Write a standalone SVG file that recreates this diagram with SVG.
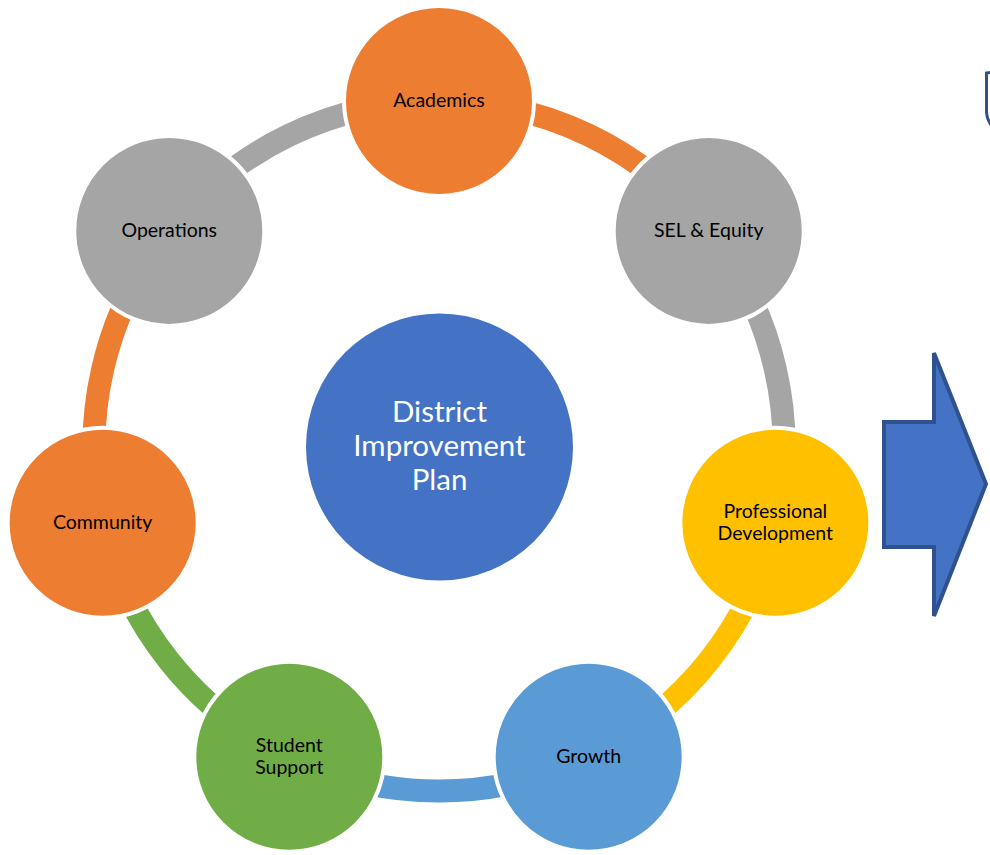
<svg xmlns="http://www.w3.org/2000/svg" width="990" height="855" viewBox="0 0 990 855">
<style>
.arc{fill:none;stroke-width:23}
.node{stroke:#fff;stroke-width:4}
.lbl{font-family:Lato,"Open Sans","DejaVu Sans",sans-serif;font-size:19.5px;fill:#000;text-anchor:middle}
.ctr{font-family:Lato,"Open Sans","DejaVu Sans",sans-serif;font-size:29.5px;fill:#fff;text-anchor:middle}
</style>
<rect width="990" height="855" fill="#fff"/>
<g id="connectors">
<path class="arc" stroke="#ED7D31" d="M439 101 A345 345 0 0 1 708.73 230.9"/>
<path class="arc" stroke="#A5A5A5" d="M708.73 230.9 A345 345 0 0 1 775.35 522.77"/>
<path class="arc" stroke="#FFC000" d="M775.35 522.77 A345 345 0 0 1 588.69 756.83"/>
<path class="arc" stroke="#5B9BD5" d="M588.69 756.83 A345 345 0 0 1 289.31 756.83"/>
<path class="arc" stroke="#70AD47" d="M289.31 756.83 A345 345 0 0 1 102.65 522.77"/>
<path class="arc" stroke="#ED7D31" d="M102.65 522.77 A345 345 0 0 1 169.27 230.9"/>
<path class="arc" stroke="#A5A5A5" d="M169.27 230.9 A345 345 0 0 1 439 101"/>
</g>
<g id="center">
<circle cx="439.5" cy="447" r="133.5" fill="#4472C4"/>
<text class="ctr" x="439.5" y="422">District</text>
<text class="ctr" x="439.5" y="456">Improvement</text>
<text class="ctr" x="439.5" y="490">Plan</text>
</g>
<g id="academics">
<circle class="node" cx="439" cy="101" r="95" fill="#ED7D31"/>
<text class="lbl" x="439" y="107">Academics</text>
</g>
<g id="sel-equity">
<circle class="node" cx="708.73" cy="230.9" r="95" fill="#A5A5A5"/>
<text class="lbl" x="708.73" y="237">SEL &amp; Equity</text>
</g>
<g id="professional-development">
<circle class="node" cx="775.35" cy="522.77" r="95" fill="#FFC000"/>
<text class="lbl" x="775.35" y="518">Professional</text>
<text class="lbl" x="775.35" y="540">Development</text>
</g>
<g id="growth">
<circle class="node" cx="588.69" cy="756.83" r="95" fill="#5B9BD5"/>
<text class="lbl" x="588.69" y="763">Growth</text>
</g>
<g id="student-support">
<circle class="node" cx="289.31" cy="756.83" r="95" fill="#70AD47"/>
<text class="lbl" x="289.31" y="752">Student</text>
<text class="lbl" x="289.31" y="774">Support</text>
</g>
<g id="community">
<circle class="node" cx="102.65" cy="522.77" r="95" fill="#ED7D31"/>
<text class="lbl" x="102.65" y="529">Community</text>
</g>
<g id="operations">
<circle class="node" cx="169.27" cy="230.9" r="95" fill="#A5A5A5"/>
<text class="lbl" x="169.27" y="237">Operations</text>
</g>
<g id="arrow">
<path d="M884 422 L934 422 L934 353 L986 484 L934 616 L934 547 L884 547 Z" fill="#4472C4" stroke="#2F528F" stroke-width="4" stroke-linejoin="miter"/>
</g>
<g id="partial-shape">
<path d="M993 72 L986.5 73 L986.5 112 Q987 121 993 127" fill="none" stroke="#2F528F" stroke-width="3"/>
</g>
</svg>
